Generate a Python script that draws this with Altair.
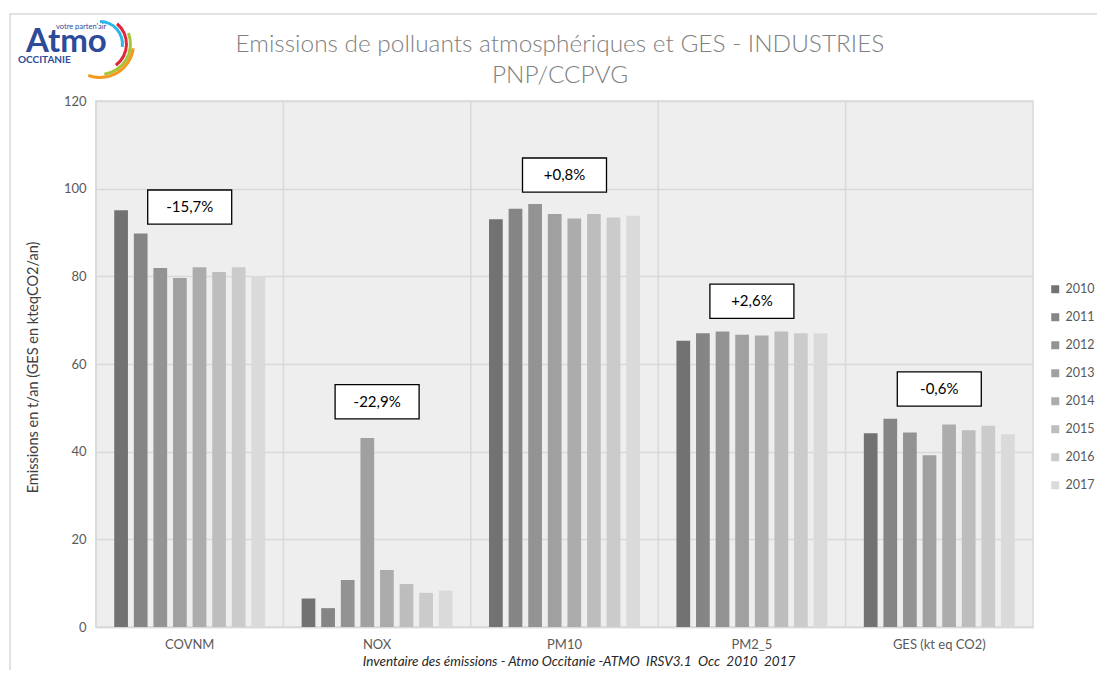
import altair as alt
import pandas as pd

categories = ["COVNM", "NOX", "PM10", "PM2_5", "GES (kt eq CO2)"]
years = ["2010", "2011", "2012", "2013", "2014", "2015", "2016", "2017"]
covnm = [95.1, 89.8, 81.9, 79.6, 82.1, 81.0, 82.1, 80.1]
nox = [6.5, 4.3, 10.7, 43.1, 13.0, 9.8, 7.8, 8.3]
pm10 = [93.0, 95.4, 96.5, 94.2, 93.2, 94.2, 93.4, 93.8]
pm25 = [65.3, 67.0, 67.4, 66.7, 66.5, 67.4, 67.0, 67.0]
ges = [44.2, 47.5, 44.4, 39.2, 46.2, 44.9, 45.9, 44.0]
changes = ["-15,7%", "-22,9%", "+0,8%", "+2,6%", "-0,6%"]
label_level = [95.8, 51.4, 103.1, 74.3, 54.3]
year_colors = ["#727272", "#858585", "#939393", "#a0a0a0",
               "#acacac", "#bdbdbd", "#cbcbcb", "#dadada"]
y_ticks = [0, 20, 40, 60, 80, 100, 120]

series = [covnm, nox, pm10, pm25, ges]
rows = []
for c, vals in zip(categories, series):
    for yr, v in zip(years, vals):
        rows.append({"cat": c, "year": yr, "value": v})
df = pd.DataFrame(rows)
ann = pd.DataFrame({"cat": categories, "txt": changes, "lvl": label_level})
cats = pd.DataFrame({"cat": categories})
one = pd.DataFrame({"k": [0]})

FONT = "Lato"
GRID = "#d9d9d9"
TXT = "#595959"
BLUE = "#2d4b98"

xscale = alt.Scale(domain=categories, paddingInner=0, paddingOuter=0)
yscale = alt.Scale(domain=[0, 120])

bars = alt.Chart(df).mark_bar().encode(
    x=alt.X("cat:N", scale=xscale, title=None),
    xOffset=alt.XOffset("year:N", scale=alt.Scale(domain=years, paddingInner=0.3, paddingOuter=0.93)),
    y=alt.Y("value:Q", scale=yscale, title="Emissions en t/an (GES en kteqCO2/an)",
            axis=alt.Axis(values=y_ticks)),
    color=alt.Color("year:N", scale=alt.Scale(domain=years, range=year_colors),
                    legend=alt.Legend(title=None, orient="none", legendX=953, legendY=182,
                                      symbolType="square", symbolSize=64, symbolStrokeWidth=0,
                                      labelFontSize=12.5, labelColor=TXT, labelFont=FONT,
                                      labelOffset=4, rowPadding=15)),
)

vgrid = alt.Chart(cats).mark_rule(color=GRID, strokeWidth=1.5).encode(
    x=alt.X("cat:N", bandPosition=0, scale=xscale, title=None)
)

boxes = alt.Chart(ann).transform_calculate(
    lo="datum.lvl - 3.9", hi="datum.lvl + 3.9"
).mark_bar(width=84, fill="white", stroke="black", strokeWidth=1.3).encode(
    x=alt.X("cat:N", scale=xscale, title=None),
    y=alt.Y("lo:Q", scale=yscale),
    y2="hi:Q",
)

boxtxt = alt.Chart(ann).mark_text(fontSize=15, font=FONT, color="black").encode(
    x=alt.X("cat:N", scale=xscale, title=None),
    y=alt.Y("lvl:Q", scale=yscale),
    text="txt:N",
)

def label(text, x, y, size, color, **kw):
    return alt.Chart(one).mark_text(fontSize=size, font=FONT, color=color, **kw).encode(
        x=alt.value(x), y=alt.value(y), text=alt.value(text))

title1 = label("Emissions de polluants atmosphériques et GES - INDUSTRIES", 464, -56, 24.4, "#808080",
               align="center", baseline="middle", fontWeight=300)
title2 = label("PNP/CCPVG", 464, -25, 24.4, "#808080", align="center", baseline="middle", fontWeight=300)
footer = label("Inventaire des émissions - Atmo Occitanie -ATMO\u00a0 IRSV3.1\u00a0 Occ\u00a0 2010\u00a0 2017",
               483, 561, 13.5, "#262626", align="center", baseline="middle", fontStyle="italic")

logo_main = label("Atmo", -70, -49, 33, BLUE, align="left", baseline="alphabetic", fontWeight="bold")
logo_sub = label("OCCITANIE", -78, -38, 10, BLUE, align="left", baseline="alphabetic", fontWeight="bold")
logo_top = label("votre parten'air", -40, -72, 7.5, BLUE, align="left", baseline="alphabetic")

def arc(t0, t1, r, color):
    return alt.Chart(one).mark_arc(theta=t0, theta2=t1, radius=r, radius2=r - 3, color=color).encode(
        x=alt.value(4), y=alt.value(-57))

arcs = [arc(0.0, 1.7, 24, "#29b6e8"), arc(0.7, 2.5, 28, "#e2263a"),
        arc(1.2, 3.0, 32, "#a6c437"), arc(1.7, 3.5, 35, "#f39a1e")]

border = alt.Chart(one).mark_rect(fill="white", fillOpacity=0, stroke=GRID, strokeWidth=1.5).encode(
    x=alt.value(-86), y=alt.value(-87), x2=alt.value(1020), y2=alt.value(590))

chart = alt.layer(
    bars, vgrid, boxes, boxtxt, title1, title2, footer,
    logo_main, logo_sub, logo_top, *arcs, border
).properties(
    width=937, height=526,
    padding={"left": 88, "top": 93, "right": 64, "bottom": 43},
    autosize=alt.AutoSizeParams(type="none"),
).configure_view(
    fill="#eeeeee", stroke=GRID, strokeWidth=1.5
).configure_axisX(
    labelAngle=0, ticks=False, labelPadding=11, labelFontSize=13, labelColor=TXT,
    labelFont=FONT, domainColor=GRID, domainWidth=1.5, grid=False
).configure_axisY(
    titleFont=FONT, titleFontSize=14.5, titleFontWeight="normal", titleColor="#404040",
    titleX=-63, titleY=266, titleAngle=270, titleAlign="center", titleBaseline="middle",
    labelFont=FONT, labelFontSize=13, labelColor=TXT, labelPadding=10,
    ticks=False, domain=False, grid=True, gridColor=GRID, gridWidth=1.5
)

chart.save("out.html", embed_options={"renderer": "svg", "actions": False})
